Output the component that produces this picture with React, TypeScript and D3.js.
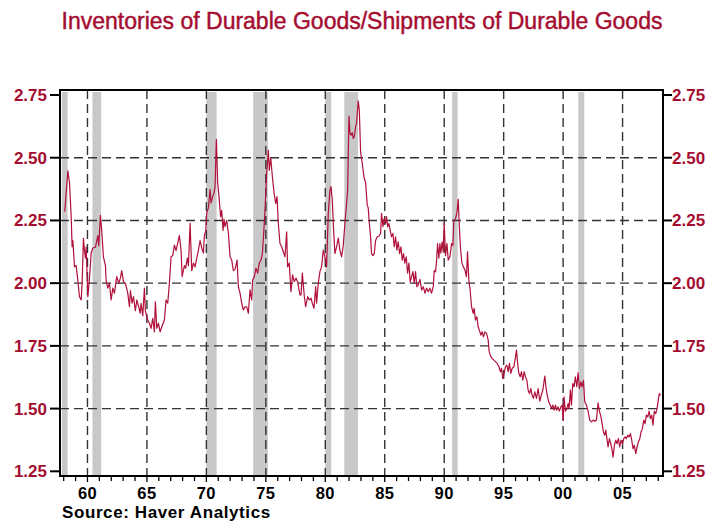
import React from 'react';
import * as d3 from 'd3';

// ratio of durable inventories to shipments, [decimal year, value]
const series1950s: [number, number][] = [
  [1958.09, 2.285], [1958.35, 2.448], [1958.49, 2.40], [1958.63, 2.265], [1958.71, 2.145],
  [1958.77, 2.17], [1958.91, 2.065], [1959.05, 2.07], [1959.19, 2.01], [1959.33, 1.946],
  [1959.47, 1.933], [1959.55, 2.0], [1959.66, 2.179], [1959.75, 2.13], [1959.83, 2.10],
  [1959.89, 2.145],
];
const series1960s: [number, number][] = [
  [1960.03, 1.946], [1960.17, 2.02], [1960.31, 2.12], [1960.45, 2.14], [1960.67, 2.143],
  [1960.87, 2.19], [1960.95, 2.15], [1961.09, 2.27], [1961.2, 2.21], [1961.34, 2.105],
  [1961.51, 2.07], [1961.57, 2.01], [1961.71, 1.98], [1961.85, 2.0], [1961.99, 1.933],
  [1962.13, 1.98], [1962.27, 1.96], [1962.46, 2.026], [1962.63, 2.0], [1962.77, 2.02],
  [1962.88, 2.05], [1963.03, 2.005], [1963.19, 2.0], [1963.39, 1.96], [1963.53, 1.906],
  [1963.61, 1.97], [1963.75, 1.92], [1963.87, 1.946], [1964.03, 1.89], [1964.15, 1.933],
  [1964.31, 1.906], [1964.43, 1.88], [1964.51, 1.92], [1964.65, 1.87], [1964.79, 1.98],
  [1964.87, 1.89], [1964.99, 1.866], [1965.07, 1.853], [1965.21, 1.84], [1965.35, 1.82],
  [1965.49, 1.86], [1965.63, 1.806], [1965.71, 1.926], [1965.83, 1.82], [1965.97, 1.84],
  [1966.11, 1.806], [1966.25, 1.826], [1966.47, 1.853], [1966.61, 1.933], [1966.75, 1.92],
  [1966.89, 2.0], [1967.03, 2.105], [1967.17, 2.11], [1967.31, 2.152], [1967.45, 2.13],
  [1967.59, 2.16], [1967.73, 2.19], [1967.87, 2.13], [1967.96, 2.026], [1968.15, 2.07],
  [1968.26, 2.06], [1968.4, 2.10], [1968.49, 2.07], [1968.63, 2.238], [1968.77, 2.05],
  [1968.91, 2.08], [1969.05, 2.065], [1969.19, 2.10], [1969.33, 2.132], [1969.47, 2.17],
  [1969.61, 2.14], [1969.75, 2.12], [1969.83, 2.19], [1969.94, 2.205],
];
const series1970s: [number, number][] = [
  [1970.03, 2.28], [1970.17, 2.30], [1970.31, 2.374], [1970.39, 2.32], [1970.5, 2.34],
  [1970.64, 2.36], [1970.73, 2.385], [1970.84, 2.573], [1970.95, 2.40], [1971.06, 2.345],
  [1971.2, 2.265], [1971.29, 2.29], [1971.4, 2.21], [1971.48, 2.255], [1971.57, 2.225],
  [1971.71, 2.25], [1971.85, 2.20], [1971.99, 2.105], [1972.13, 2.092], [1972.27, 2.05],
  [1972.41, 2.055], [1972.58, 2.092], [1972.69, 1.986], [1972.83, 1.96], [1972.97, 1.92],
  [1973.11, 1.893], [1973.25, 1.906], [1973.39, 1.906], [1973.53, 1.88], [1973.67, 1.973],
  [1973.81, 1.933], [1973.89, 2.013], [1974.03, 2.026], [1974.17, 2.06], [1974.31, 2.04],
  [1974.45, 2.08], [1974.59, 2.092], [1974.71, 2.118], [1974.82, 2.20], [1974.93, 2.29],
  [1975.07, 2.438], [1975.21, 2.53], [1975.29, 2.45], [1975.41, 2.50], [1975.55, 2.424],
  [1975.69, 2.36], [1975.83, 2.318], [1975.94, 2.345], [1976.05, 2.238], [1976.19, 2.158],
  [1976.33, 2.145], [1976.47, 2.125], [1976.61, 2.105], [1976.75, 2.205], [1976.83, 2.065],
  [1976.97, 2.08], [1977.11, 1.966], [1977.25, 2.033], [1977.39, 2.006], [1977.54, 2.02],
  [1977.67, 2.006], [1977.87, 1.953], [1977.96, 1.953], [1978.07, 2.04], [1978.24, 1.946],
  [1978.35, 1.906], [1978.52, 1.946], [1978.66, 1.933], [1978.8, 1.94], [1978.91, 1.92],
  [1979.05, 1.90], [1979.19, 1.986], [1979.27, 1.92], [1979.41, 2.0], [1979.55, 2.046],
  [1979.69, 2.066], [1979.83, 2.132], [1979.97, 2.105],
];
const series1980s: [number, number][] = [
  [1980.11, 2.066], [1980.25, 2.278], [1980.39, 2.37], [1980.48, 2.385], [1980.59, 2.33],
  [1980.7, 2.21], [1980.81, 2.118], [1980.95, 2.145], [1981.09, 2.18], [1981.23, 2.132],
  [1981.37, 2.105], [1981.51, 2.15], [1981.65, 2.238], [1981.79, 2.318], [1981.88, 2.37],
  [1981.99, 2.666], [1982.07, 2.60], [1982.16, 2.59], [1982.27, 2.60], [1982.35, 2.577],
  [1982.44, 2.585], [1982.55, 2.624], [1982.63, 2.637], [1982.77, 2.727], [1982.86, 2.69],
  [1982.97, 2.524], [1983.11, 2.477], [1983.25, 2.424], [1983.39, 2.40], [1983.53, 2.31],
  [1983.61, 2.30], [1983.7, 2.24], [1983.81, 2.185], [1983.89, 2.118], [1984.01, 2.11],
  [1984.12, 2.118], [1984.23, 2.17], [1984.37, 2.185], [1984.51, 2.187], [1984.65, 2.198],
  [1984.73, 2.278], [1984.85, 2.225], [1984.96, 2.258], [1985.07, 2.238], [1985.15, 2.265],
  [1985.24, 2.225], [1985.35, 2.238], [1985.46, 2.21], [1985.57, 2.185], [1985.69, 2.198],
  [1985.8, 2.145], [1985.91, 2.185], [1986.02, 2.132], [1986.13, 2.165], [1986.25, 2.118],
  [1986.36, 2.145], [1986.47, 2.092], [1986.58, 2.118], [1986.69, 2.08], [1986.81, 2.105],
  [1986.92, 2.04], [1987.03, 2.08], [1987.14, 2.005], [1987.26, 2.026], [1987.37, 2.046],
  [1987.48, 2.0], [1987.59, 2.046], [1987.7, 1.986], [1987.82, 1.993], [1987.96, 2.015],
  [1988.1, 1.973], [1988.24, 1.986], [1988.38, 1.96], [1988.52, 1.98], [1988.66, 1.966],
  [1988.8, 1.98], [1988.94, 1.96], [1989.08, 1.986], [1989.16, 2.05], [1989.27, 2.045],
  [1989.36, 2.09], [1989.44, 2.158], [1989.55, 2.10], [1989.64, 2.158], [1989.72, 2.12],
  [1989.83, 2.165], [1989.92, 2.125],
];
const series1990s: [number, number][] = [
  [1990.0, 2.238], [1990.11, 2.11], [1990.23, 2.158], [1990.34, 2.092], [1990.48, 2.105],
  [1990.62, 2.158], [1990.73, 2.15], [1990.81, 2.25], [1990.95, 2.257], [1991.07, 2.28],
  [1991.18, 2.334], [1991.26, 2.238], [1991.37, 2.138], [1991.49, 2.08], [1991.6, 2.066],
  [1991.74, 2.053], [1991.87, 2.026], [1991.96, 2.125], [1992.07, 2.013], [1992.18, 1.973],
  [1992.3, 1.906], [1992.44, 1.88], [1992.52, 1.90], [1992.63, 1.853], [1992.75, 1.866],
  [1992.86, 1.826], [1993.0, 1.806], [1993.08, 1.793], [1993.19, 1.806], [1993.3, 1.786],
  [1993.42, 1.806], [1993.56, 1.80], [1993.7, 1.773], [1993.78, 1.727], [1993.92, 1.707],
  [1994.03, 1.70], [1994.18, 1.693], [1994.31, 1.687], [1994.45, 1.68], [1994.6, 1.667],
  [1994.73, 1.647], [1994.82, 1.66], [1994.93, 1.62], [1995.04, 1.64], [1995.15, 1.667],
  [1995.27, 1.673], [1995.38, 1.647], [1995.49, 1.68], [1995.6, 1.64], [1995.71, 1.66],
  [1995.86, 1.667], [1996.0, 1.707], [1996.08, 1.733], [1996.16, 1.687], [1996.28, 1.64],
  [1996.39, 1.627], [1996.5, 1.647], [1996.61, 1.613], [1996.72, 1.647], [1996.83, 1.627],
  [1996.95, 1.613], [1997.06, 1.573], [1997.17, 1.56], [1997.29, 1.58], [1997.39, 1.553],
  [1997.5, 1.541], [1997.62, 1.567], [1997.76, 1.541], [1997.9, 1.58], [1998.04, 1.53],
  [1998.18, 1.556], [1998.3, 1.575], [1998.46, 1.63], [1998.57, 1.58], [1998.68, 1.55],
  [1998.79, 1.527], [1998.91, 1.514], [1999.02, 1.50], [1999.13, 1.514], [1999.24, 1.494],
  [1999.35, 1.514], [1999.47, 1.494], [1999.58, 1.507], [1999.69, 1.49], [1999.81, 1.507],
  [1999.92, 1.514],
];
const series2000s: [number, number][] = [
  [2000.0, 1.454], [2000.08, 1.547], [2000.19, 1.49], [2000.31, 1.50], [2000.42, 1.52],
  [2000.5, 1.50], [2000.61, 1.574], [2000.7, 1.514], [2000.81, 1.60], [2000.92, 1.587],
  [2001.03, 1.627], [2001.15, 1.587], [2001.26, 1.643], [2001.37, 1.58], [2001.49, 1.607],
  [2001.6, 1.587], [2001.71, 1.613], [2001.82, 1.527], [2001.96, 1.514], [2002.1, 1.49],
  [2002.24, 1.454], [2002.38, 1.447], [2002.52, 1.454], [2002.66, 1.45], [2002.8, 1.454],
  [2002.94, 1.523], [2003.05, 1.49], [2003.17, 1.47], [2003.28, 1.44], [2003.39, 1.407],
  [2003.5, 1.394], [2003.59, 1.414], [2003.7, 1.374], [2003.78, 1.347], [2003.89, 1.38],
  [2004.01, 1.36], [2004.12, 1.334], [2004.2, 1.306], [2004.31, 1.354], [2004.43, 1.374],
  [2004.54, 1.36], [2004.65, 1.38], [2004.76, 1.347], [2004.87, 1.374], [2004.99, 1.36],
  [2005.1, 1.38], [2005.21, 1.387], [2005.32, 1.38], [2005.44, 1.394], [2005.55, 1.387],
  [2005.66, 1.40], [2005.77, 1.374], [2005.88, 1.34], [2005.99, 1.354], [2006.11, 1.32],
  [2006.22, 1.347], [2006.33, 1.367], [2006.45, 1.38], [2006.55, 1.407], [2006.67, 1.42],
  [2006.78, 1.454], [2006.89, 1.44], [2007.0, 1.474], [2007.12, 1.467], [2007.23, 1.49],
  [2007.34, 1.46], [2007.45, 1.474], [2007.56, 1.434], [2007.67, 1.49], [2007.79, 1.48],
  [2007.9, 1.50], [2007.98, 1.527], [2008.09, 1.56], [2008.2, 1.553],
];

// recession periods [start, end]
const recessions: [number, number][] = [
  [1957.85, 1958.33], [1960.42, 1961.15], [1970.0, 1970.86], [1973.93, 1975.17],
  [1980.0, 1980.5], [1981.6, 1982.75], [1990.67, 1991.13], [2001.28, 2001.78],
];

const yTicks = [1.25, 1.5, 1.75, 2.0, 2.25, 2.5, 2.75];
const yGrid = [1.5, 1.75, 2.0, 2.25, 2.5];
const xLabelYears = [1960, 1965, 1970, 1975, 1980, 1985, 1990, 1995, 2000, 2005];
const xLabels = ['60', '65', '70', '75', '80', '85', '90', '95', '00', '05'];
const minorYears = d3.range(1958, 2009);

const RED = '#A50D30';
const W = 713, H = 522;
const left = 60, right = 663, top = 90, bottom = 476;

export default function App() {
  const data = [...series1950s, ...series1960s, ...series1970s, ...series1980s, ...series1990s, ...series2000s];
  const x = d3.scaleLinear().domain([1957.69, 2008.4]).range([left, right]);
  const y = d3.scaleLinear().domain([1.2313, 2.77]).range([bottom, top]);
  const line = d3.line<[number, number]>().x(d => x(d[0])).y(d => y(d[1]));
  const font = 'Arial, "Liberation Sans", Helvetica, sans-serif';

  return (
    <svg width={W} height={H} style={{ position: 'absolute', left: 0, top: 0, background: '#fff' }} fontFamily={font}>
      <text x={362} y={29} textAnchor="middle" fill={RED} stroke={RED} strokeWidth={0.45} fontSize={23}>
        Inventories of Durable Goods/Shipments of Durable Goods
      </text>

      <defs>
        <clipPath id="plot">
          <rect x={left} y={top} width={right - left} height={bottom - top} />
        </clipPath>
      </defs>

      <g clipPath="url(#plot)">
        {recessions.map(([a, b], i) => (
          <rect key={i} x={x(a)} y={top + 2} width={x(b) - x(a)} height={bottom - top - 2} fill="#C8C8C8" />
        ))}
      </g>

      {yGrid.map(v => (
        <line key={v} x1={left} x2={right} y1={y(v)} y2={y(v)} stroke="#333" strokeWidth={1.4} strokeDasharray="9,5" />
      ))}
      {xLabelYears.map(v => (
        <line key={v} x1={x(v)} x2={x(v)} y1={top} y2={bottom} stroke="#333" strokeWidth={1.4} strokeDasharray="9,5" />
      ))}

      <path d={line(data) || ''} fill="none" stroke="#B0103A" strokeWidth={1.2} strokeLinejoin="round" clipPath="url(#plot)" />

      <rect x={left} y={top} width={right - left} height={bottom - top} fill="none" stroke="#000" strokeWidth={2} />

      {yTicks.map(v => (
        <g key={v}>
          <line x1={left - 10} x2={left} y1={y(v)} y2={y(v)} stroke="#000" strokeWidth={2} />
          <line x1={right} x2={right + 9} y1={y(v)} y2={y(v)} stroke="#000" strokeWidth={2} />
          <text x={47} y={y(v) + 6} textAnchor="end" fill={RED} fontSize={17} fontWeight="bold">
            {v.toFixed(2)}
          </text>
          <text x={672} y={y(v) + 6} textAnchor="start" fill={RED} fontSize={17} fontWeight="bold">
            {v.toFixed(2)}
          </text>
        </g>
      ))}

      {minorYears.map(v => (
        <line key={v} x1={x(v)} x2={x(v)} y1={bottom} y2={bottom + (v % 5 === 0 ? 6 : 5)} stroke="#000" strokeWidth={1.3} />
      ))}
      {xLabelYears.map((v, i) => (
        <text key={v} x={x(v)} y={499} textAnchor="middle" fill="#000" fontSize={16.5} fontWeight="bold" letterSpacing={0.4}>
          {xLabels[i]}
        </text>
      ))}

      <text x={62} y={518} fill="#000" fontSize={17} fontWeight="bold" letterSpacing={0.6}>Source: Haver Analytics</text>
    </svg>
  );
}
